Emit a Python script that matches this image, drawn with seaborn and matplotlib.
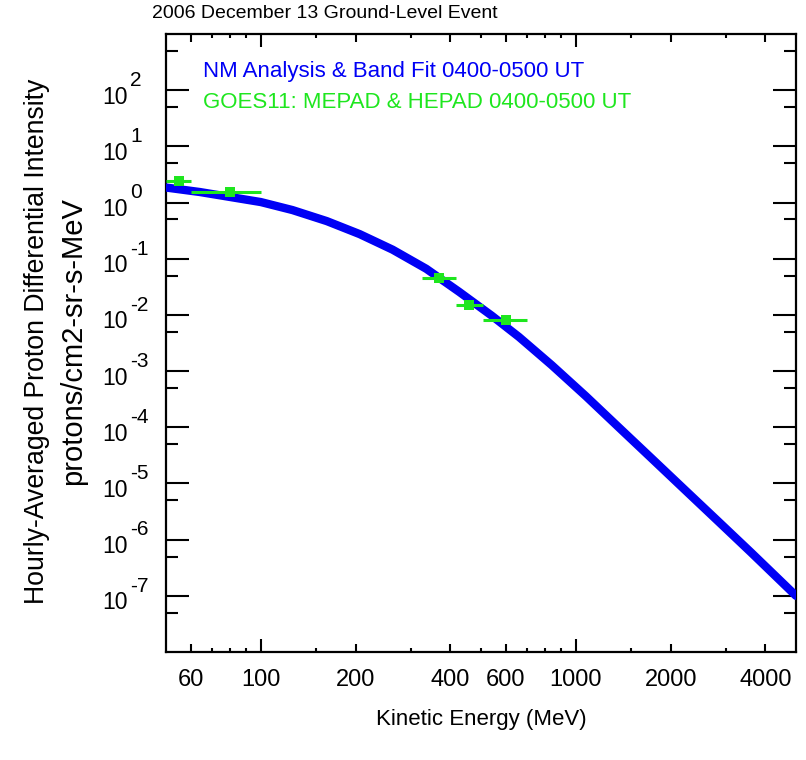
import numpy as np
import pandas as pd
import matplotlib
matplotlib.use('Agg')
import matplotlib.pyplot as plt
from matplotlib.transforms import blended_transform_factory
import seaborn as sns

# ---- data ----
fit_energy = [50, 64, 100, 126, 162, 206, 262, 335, 426, 542, 660, 838,
              1076, 1368, 1741, 2230, 2836, 3606, 5000]
fit_flux = [1.85, 1.54, 1.02, 0.735, 0.467, 0.274, 0.145, 0.0663, 0.0258, 0.0096,
            0.00405, 0.00128, 3.58e-4, 1.0e-4, 2.79e-5, 7.5e-6, 2.1e-6, 5.86e-7, 1.0e-7]

goes_energy = [55, 80, 368, 458, 600]
goes_flux = [2.37, 1.57, 0.0458, 0.0151, 0.0082]
goes_elo = [50, 60, 326, 417, 508]
goes_ehi = [60, 100, 417, 508, 700]

xtick_major = [60, 100, 200, 400, 600, 1000, 2000, 4000]
xtick_minor = [70, 80, 90, 150, 300, 500, 700, 800, 900, 1500, 3000]
ytick_pows = [-7, -6, -5, -4, -3, -2, -1, 0, 1, 2]

title = "2006 December 13 Ground-Level Event"
label_fit = "NM Analysis & Band Fit 0400-0500 UT"
label_goes = "GOES11: MEPAD & HEPAD 0400-0500 UT"

BLUE = '#0000f5'
GREEN = '#1ee61e'

sns.set_theme(style='white')
plt.rcParams['font.family'] = ['Liberation Sans', 'DejaVu Sans']
plt.rcParams['text.color'] = 'black'
plt.rcParams['xtick.color'] = 'black'
plt.rcParams['ytick.color'] = 'black'
plt.rcParams['axes.edgecolor'] = 'black'

fig = plt.figure(figsize=(8.06, 7.6), dpi=100)
ax = fig.add_axes([166 / 806, 1 - 652 / 760, 630 / 806, 618 / 760])
ax.set_xscale('log')
ax.set_yscale('log')

# Band fit curve
fit_df = pd.DataFrame({'E': fit_energy, 'J': fit_flux})
sns.lineplot(data=fit_df, x='E', y='J', color=BLUE, linewidth=6,
             sort=False, ax=ax, zorder=3)

# GOES points with energy-channel bars
goes_df = pd.DataFrame({'E': goes_energy, 'J': goes_flux})
xerr = [np.array(goes_energy) - np.array(goes_elo),
        np.array(goes_ehi) - np.array(goes_energy)]
ax.errorbar(goes_energy, goes_flux, xerr=xerr, fmt='none', ecolor=GREEN,
            elinewidth=2.2, capsize=0, zorder=4)
sns.scatterplot(data=goes_df, x='E', y='J', color=GREEN, marker='s', s=55,
                edgecolor=GREEN, linewidth=0, ax=ax, zorder=5)

ax.set_xlim(50, 5000)
ax.set_ylim(1e-8, 1e3)

# x ticks
ax.set_xticks(xtick_major)
ax.set_xticklabels([str(v) for v in xtick_major])
ax.set_xticks(xtick_minor, minor=True)
ax.xaxis.set_minor_formatter(matplotlib.ticker.NullFormatter())
ax.tick_params(axis='x', which='major', direction='in', length=5.8, width=1.5,
               top=True, bottom=True, labelsize=17, pad=12)
ax.tick_params(axis='x', which='minor', direction='in', length=2.9, width=1.5,
               top=True, bottom=True)
for t, v in zip(ax.xaxis.get_major_ticks(), xtick_major):
    if v in (100, 1000):
        t.tick1line.set_markersize(9.4)
        t.tick2line.set_markersize(9.4)

# y ticks, labels drawn as "10" plus a raised exponent (IDL style)
ax.set_yticks([10.0 ** p for p in ytick_pows])
ax.set_yticklabels([])
ax.set_yticks([5 * 10.0 ** p for p in range(-8, 3)], minor=True)
ax.yaxis.set_minor_formatter(matplotlib.ticker.NullFormatter())
ax.tick_params(axis='y', which='major', direction='in', length=16.5, width=1.5,
               left=True, right=True)
ax.tick_params(axis='y', which='minor', direction='in', length=8.6, width=1.5,
               left=True, right=True)
trans = blended_transform_factory(ax.transAxes, ax.transData)
for p in ytick_pows:
    ax.annotate('10', xy=(0, 10.0 ** p), xycoords=trans, xytext=(-27.4, -5),
                textcoords='offset points', ha='right', va='center',
                fontsize=16.5, annotation_clip=False)
    ax.annotate(str(p), xy=(0, 10.0 ** p), xycoords=trans, xytext=(-26, 7),
                textcoords='offset points', ha='left', va='center',
                fontsize=15, annotation_clip=False)

for sp in ax.spines.values():
    sp.set_color('black')
    sp.set_linewidth(1.6)

ax.set_xlabel('')
ax.set_ylabel('')

fig.text(152 / 806, 1 - 14 / 760, title, fontsize=14, ha='left', va='center')
fig.text(481 / 806, 1 - 720 / 760, "Kinetic Energy (MeV)", fontsize=16,
         ha='center', va='center')
fig.text(37 / 806, 1 - 341 / 760, "Hourly-Averaged Proton Differential Intensity",
         fontsize=19.2, rotation=90, ha='center', va='center')
fig.text(73 / 806, 1 - 341 / 760, "protons/cm2-sr-s-MeV",
         fontsize=21, rotation=90, ha='center', va='center')

fig.text(203 / 806, 1 - 72 / 760, label_fit, fontsize=16, color=BLUE,
         ha='left', va='center')
fig.text(203 / 806, 1 - 103 / 760, label_goes, fontsize=16, color=GREEN,
         ha='left', va='center')

fig.savefig('out.png', dpi=100, facecolor='white')
